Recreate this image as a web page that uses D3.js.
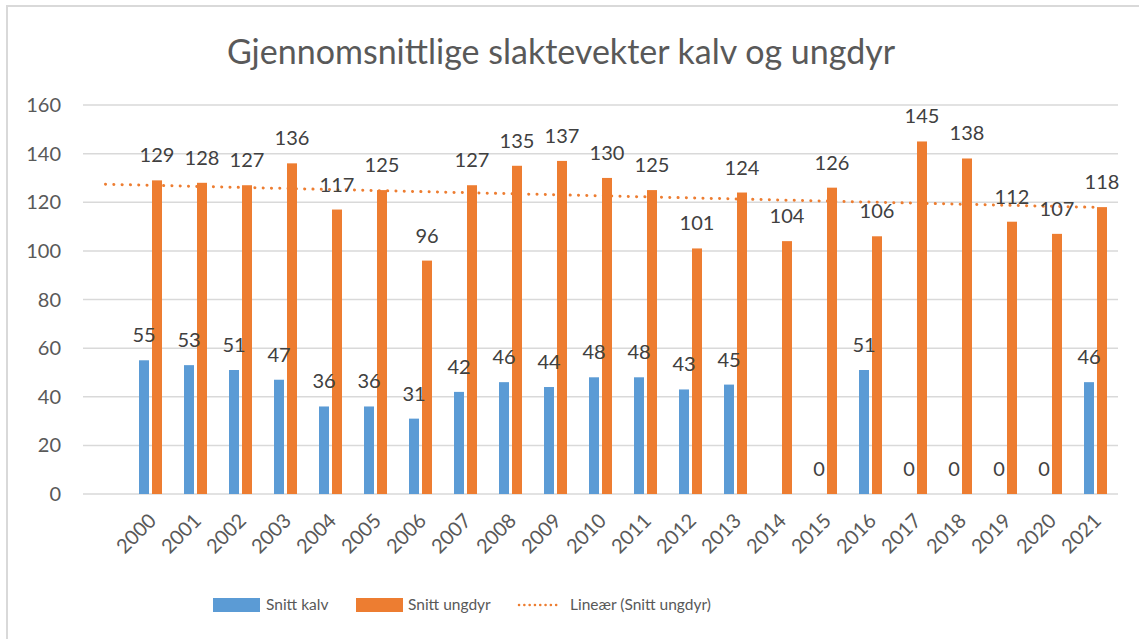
<!DOCTYPE html>
<html>
<head>
<meta charset="utf-8">
<script src="https://cdn.jsdelivr.net/npm/d3@7"></script>
<style>
  body { margin: 0; background: #fff; }
  text { font-family: Lato, "Open Sans", sans-serif; }
</style>
</head>
<body>
<script>
const w = 1139;
const h = 639;

// first category is empty in the source sheet
const years = ["", "2000", "2001", "2002", "2003", "2004", "2005", "2006", "2007", "2008", "2009", "2010",
    "2011", "2012", "2013", "2014", "2015", "2016", "2017", "2018", "2019", "2020", "2021"];
const kalv = [null, 55, 53, 51, 47, 36, 36, 31, 42, 46, 44, 48, 48, 43, 45, null, 0, 51, 0, 0, 0, 0, 46];
const ungdyr = [null, 129, 128, 127, 136, 117, 125, 96, 127, 135, 137, 130, 125, 101, 124, 104, 126, 106, 145, 138, 112, 107, 118];
// trend line: value at first (empty) category and at 2021
const trendEnds = [127.4, 117.9];
const yTicks = [0, 20, 40, 60, 80, 100, 120, 140, 160];

const blue = "#5b9bd5";
const orange = "#ed7d31";

const svg = d3.select("body")
    .append("svg")
    .attr("width", w)
    .attr("height", h);

svg.append("rect")
    .attr("x", 7).attr("y", 6)
    .attr("width", w).attr("height", h)
    .attr("fill", "#fff")
    .attr("stroke", "#d9d9d9")
    .attr("stroke-width", 2);

svg.append("text")
    .attr("x", 561).attr("y", 64)
    .attr("text-anchor", "middle")
    .attr("font-size", 34)
    .attr("fill", "#595959")
    .text("Gjennomsnittlige slaktevekter kalv og ungdyr");

const x = d3.scaleBand()
    .domain(years.map((d, i) => i))
    .range([83, 1118]);

const y = d3.scaleLinear()
    .domain([0, 160])
    .range([494, 105]);

// gridlines
svg.append("g")
    .selectAll("line")
    .data(yTicks)
    .enter()
    .append("line")
    .attr("x1", 83).attr("x2", 1118)
    .attr("y1", (d) => y(d)).attr("y2", (d) => y(d))
    .attr("stroke", "#d9d9d9")
    .attr("stroke-width", 1.5);

svg.append("g")
    .selectAll("text")
    .data(yTicks)
    .enter()
    .append("text")
    .attr("x", 61)
    .attr("y", (d) => y(d))
    .attr("dy", "0.35em")
    .attr("text-anchor", "end")
    .attr("font-size", 20)
    .attr("fill", "#595959")
    .text((d) => d);

const barW = 10;
const gap = 1.5;
const cx = (i) => x(i) + x.bandwidth() / 2;

const rows = years.map((yr, i) => ({ i: i, yr: yr, k: kalv[i], u: ungdyr[i] }));

svg.append("g")
    .selectAll("rect")
    .data(rows.filter((d) => d.k !== null))
    .enter()
    .append("rect")
    .attr("x", (d) => cx(d.i) - gap - barW)
    .attr("y", (d) => y(d.k))
    .attr("width", barW)
    .attr("height", (d) => y(0) - y(d.k))
    .attr("fill", blue);

svg.append("g")
    .selectAll("rect")
    .data(rows.filter((d) => d.u !== null))
    .enter()
    .append("rect")
    .attr("x", (d) => cx(d.i) + gap)
    .attr("y", (d) => y(d.u))
    .attr("width", barW)
    .attr("height", (d) => y(0) - y(d.u))
    .attr("fill", orange);

// trend line
const trendData = [{ i: 0, v: trendEnds[0] }, { i: years.length - 1, v: trendEnds[1] }];
svg.append("path")
    .datum(trendData)
    .attr("d", d3.line().x((d) => cx(d.i)).y((d) => y(d.v)))
    .attr("fill", "none")
    .attr("stroke", orange)
    .attr("stroke-width", 3)
    .attr("stroke-linecap", "round")
    .attr("stroke-dasharray", "0.1 8.2");

// data labels
svg.append("g")
    .selectAll("text")
    .data(rows.filter((d) => d.k !== null))
    .enter()
    .append("text")
    .attr("x", (d) => cx(d.i) - gap - barW / 2)
    .attr("y", (d) => y(d.k) - 25)
    .attr("text-anchor", "middle")
    .attr("dy", "0.35em")
    .attr("font-size", 20)
    .attr("fill", "#404040")
    .text((d) => d.k);

svg.append("g")
    .selectAll("text")
    .data(rows.filter((d) => d.u !== null))
    .enter()
    .append("text")
    .attr("x", (d) => cx(d.i) + gap + barW / 2)
    .attr("y", (d) => y(d.u) - 25)
    .attr("text-anchor", "middle")
    .attr("dy", "0.35em")
    .attr("font-size", 20)
    .attr("fill", "#404040")
    .text((d) => d.u);

// x labels, rotated
svg.append("g")
    .selectAll("text")
    .data(rows.filter((d) => d.yr !== ""))
    .enter()
    .append("text")
    .attr("transform", (d) => "translate(" + (cx(d.i) + 2) + ",517) rotate(-45)")
    .attr("text-anchor", "end")
    .attr("dy", "0.35em")
    .attr("font-size", 20)
    .attr("fill", "#595959")
    .text((d) => d.yr);

// legend
const legend = svg.append("g");
legend.append("rect").attr("x", 213).attr("y", 598).attr("width", 47).attr("height", 14).attr("fill", blue);
legend.append("text").attr("x", 266).attr("y", 605).attr("dy", "0.35em")
    .attr("font-size", 15.5).attr("fill", "#595959").text("Snitt kalv");
legend.append("rect").attr("x", 356).attr("y", 598).attr("width", 47).attr("height", 14).attr("fill", orange);
legend.append("text").attr("x", 408).attr("y", 605).attr("dy", "0.35em")
    .attr("font-size", 15.5).attr("fill", "#595959").text("Snitt ungdyr");
legend.append("line").attr("x1", 519).attr("x2", 561).attr("y1", 605).attr("y2", 605)
    .attr("stroke", orange).attr("stroke-width", 2.5).attr("stroke-linecap", "round")
    .attr("stroke-dasharray", "0.1 5.2");
legend.append("text").attr("x", 570).attr("y", 605).attr("dy", "0.35em")
    .attr("font-size", 15.5).attr("fill", "#595959").text("Lineær (Snitt ungdyr)");
</script>
</body>
</html>
